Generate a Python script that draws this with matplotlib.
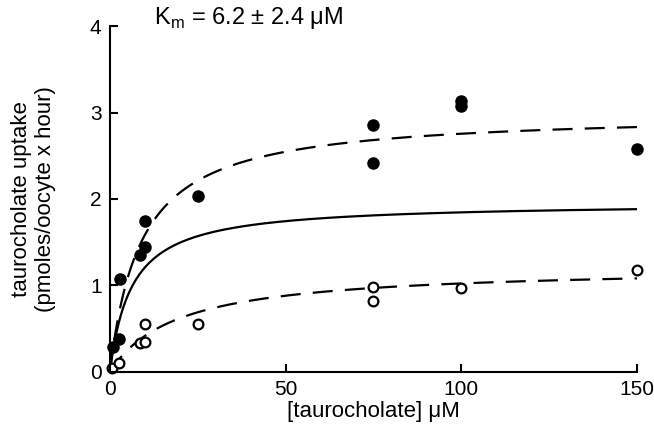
import matplotlib
import numpy as np
from matplotlib import pyplot as plt

matplotlib.use("Agg")

# filled circles (upper set)
filled_x = [1, 2.5, 3, 8.5, 10, 10, 25, 75, 75, 100, 100, 150]
filled_y = [0.29, 0.38, 1.08, 1.35, 1.45, 1.75, 2.03, 2.86, 2.42, 3.13, 3.08, 2.58]

# open circles (lower set)
open_x = [0.5, 2.5, 8.5, 10, 10, 25, 75, 75, 100, 150]
open_y = [0.04, 0.10, 0.33, 0.35, 0.55, 0.55, 0.98, 0.82, 0.97, 1.18]

# Michaelis-Menten fits: (Vmax, Km)
fit_solid = (1.96, 6.2)
fit_upper = (3.0, 8.9)
fit_lower = (1.22, 19.2)

x_ticks = [0, 50, 100, 150]
y_ticks = [0, 1, 2, 3, 4]


def _mm(s, vmax, km):
    return vmax * s / (km + s)


plt.rcParams["font.family"] = ["Liberation Sans", "DejaVu Sans"]

fig = plt.figure(figsize=(6.54, 4.34), dpi=100)
ax = fig.add_axes([0.168, 0.143, 0.806, 0.797])

s = np.linspace(0, 150, 600)
ax.plot(s, _mm(s, *fit_solid), color="black", lw=1.6)
ax.plot(s, _mm(s, *fit_upper), color="black", lw=1.6, dashes=(9, 5.5))
ax.plot(s, _mm(s, *fit_lower), color="black", lw=1.6, dashes=(9, 5.5))

ax.plot(filled_x, filled_y, "o", color="black", ms=8, clip_on=False)
ax.plot(open_x, open_y, "o", mfc="white", mec="black", mew=1.6, ms=7, clip_on=False)

ax.set_xlim(0, 150)
ax.set_ylim(0, 4)
ax.set_xticks(x_ticks)
ax.set_yticks(y_ticks)
for side in ("top", "right"):
    ax.spines[side].set_visible(False)
for side in ("left", "bottom"):
    ax.spines[side].set_linewidth(1.5)
ax.tick_params(direction="in", length=6, width=1.5, labelsize=15, pad=6)

ax.set_xlabel("[taurocholate] \u03bcM", fontsize=16, labelpad=1)
ax.set_ylabel("taurocholate uptake\n(pmoles/oocyte x hour)", fontsize=16, labelpad=24)
fig.text(0.235, 0.958, "K$_\\mathregular{m}$ = 6.2 \u00b1 2.4 \u03bcM",
         fontsize=17, ha="left", va="center")

fig.savefig("out.png", dpi=100)
plt.close(fig)
